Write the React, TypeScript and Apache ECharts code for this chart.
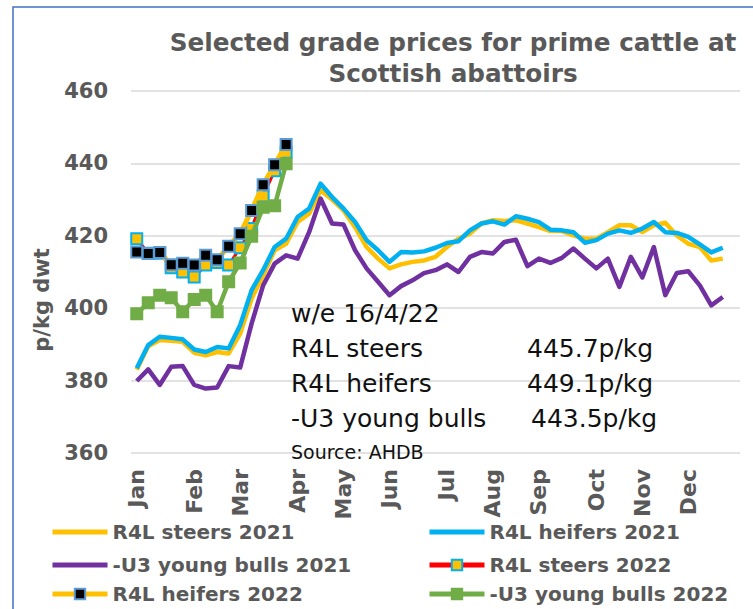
import React, { useEffect, useRef } from "react";
import * as echarts from "echarts";

const monthLabels: Record<number, string> = {
  0: "Jan", 5: "Feb", 9: "Mar", 14: "Apr", 18: "May", 22: "Jun",
  27: "Jul", 31: "Aug", 35: "Sep", 40: "Oct", 44: "Nov", 48: "Dec",
};
const weekCount = 53;
const categories: string[] = Array.from({ length: weekCount }, (_, i) => monthLabels[i] ?? "");

const steers2021 = [
  383.0, 389.5, 391.2, 391.0, 390.7, 387.7, 387.0, 387.9, 387.5, 393.0, 402.7, 409.1, 416.0, 417.8, 423.8, 426.1, 432.6,
  430.0, 427.0, 422.4, 416.9, 413.7, 411.0, 412.1, 412.8, 413.2, 414.2, 416.9, 419.2, 420.6, 423.4, 424.3, 424.1, 424.3, 423.4,
  422.4, 421.3, 421.3, 420.1, 419.2, 419.2, 421.0, 422.9, 422.9, 421.0, 422.9, 423.6, 420.1, 417.8, 416.9, 413.2, 413.7,
];
const heifers2021 = [
  383.4, 389.8, 392.1, 391.8, 391.4, 388.6, 387.9, 389.3, 388.9, 395.3, 405.0, 410.5, 416.9, 419.2, 425.2, 427.5, 434.4,
  430.7, 427.5, 423.8, 418.8, 416.0, 412.8, 415.5, 415.4, 415.7, 416.7, 418.0, 418.5, 421.5, 423.4, 424.0, 423.1, 425.4, 424.7,
  423.8, 421.7, 421.5, 421.0, 418.1, 418.8, 420.6, 421.5, 420.8, 422.0, 423.8, 421.0, 420.8, 419.7, 417.6, 415.4, 416.7,
];
const bulls2021 = [
  379.9, 383.1, 378.8, 383.8, 384.0, 378.8, 377.8, 378.1, 384.0, 383.6, 395.8, 406.3, 412.3, 414.6, 413.7, 421.0, 430.3,
  423.4, 423.1, 416.0, 411.0, 407.3, 403.6, 406.1, 407.7, 409.7, 410.5, 412.1, 410.0, 414.2, 415.5, 415.1, 418.3, 418.9, 411.6,
  413.7, 412.5, 413.9, 416.5, 413.7, 411.0, 413.7, 405.9, 414.2, 408.5, 416.9, 403.6, 409.7, 410.2, 406.3, 400.8, 403.1,
];
const steers2022 = [419.2, 415.2, 415.2, 411.2, 410.0, 408.6, 411.9, 412.6, 411.9, 416.7, 422.0, 431.0, 438.0, 443.1];
const heifers2022 = [415.5, 415.1, 415.4, 412.0, 412.4, 411.9, 414.6, 413.4, 417.1, 420.6, 427.0, 434.1, 439.6, 445.2];
const bulls2022 = [398.5, 401.5, 403.6, 402.9, 399.0, 402.4, 403.6, 399.0, 407.3, 412.5, 419.9, 427.9, 428.3, 439.9];

const yTicks = { min: 360, max: 460, interval: 20 };

const titleText = "Selected grade prices for prime cattle at\nScottish abattoirs";
const yAxisName = "p/kg dwt";
const noteRows: [string, string][] = [
  ["R4L steers", "445.7p/kg"],
  ["R4L heifers", "449.1p/kg"],
  ["-U3 young bulls", "443.5p/kg"],
];
const noteHeader = "w/e 16/4/22";
const sourceText = "Source: AHDB";

const GREY = "#595959";
const FONT = "DejaVu Sans";

export default function App() {
  const ref = useRef<HTMLDivElement>(null);
  useEffect(() => {
    if (!ref.current) return;
    const chart = echarts.init(ref.current, undefined, { renderer: "svg" });

    const lineSeries = (name: string, data: number[], color: string, width: number, z: number) => ({
      name,
      type: "line",
      data,
      symbol: "none",
      showSymbol: false,
      z,
      itemStyle: { color },
      lineStyle: { color, width, join: "round" },
    });
    const markerSeries = (
      name: string, data: number[], lineColor: string, width: number,
      fill: string, border: string, z: number
    ) => ({
      name,
      type: "line",
      data,
      symbol: "rect",
      symbolSize: 11,
      showSymbol: true,
      z,
      itemStyle: { color: fill, borderColor: border, borderWidth: 2 },
      lineStyle: { color: lineColor, width },
    });

    const legendCommon = {
      orient: "horizontal",
      itemWidth: 55,
      itemHeight: 13,
      textStyle: { color: GREY, fontSize: 20, fontWeight: "bold", fontFamily: FONT },
      padding: 0,
      selectedMode: false,
    };
    const rowY = [534, 567, 596];
    const colX = [50, 427];
    const legendDefs: { name: string; row: number; col: number; line: boolean; width: number }[] = [
      { name: "R4L steers 2021", row: 0, col: 0, line: false, width: 5 },
      { name: "R4L heifers 2021", row: 0, col: 1, line: false, width: 5 },
      { name: "-U3 young bulls 2021", row: 1, col: 0, line: false, width: 5 },
      { name: "R4L steers 2022", row: 1, col: 1, line: true, width: 5 },
      { name: "R4L heifers 2022", row: 2, col: 0, line: true, width: 5 },
      { name: "-U3 young bulls 2022", row: 2, col: 1, line: true, width: 5 },
    ];
    const legends = legendDefs.map((d) => ({
      ...legendCommon,
      left: colX[d.col],
      top: rowY[d.row] - 12,
      lineStyle: { width: d.width, cap: "butt" },
      data: [d.line ? { name: d.name } : { name: d.name, itemStyle: { opacity: 0 } }],
    }));

    const noteFont = `25px ${FONT}`;
    const graphics: any[] = [
      {
        type: "rect",
        z: -10,
        shape: { x: 13, y: 7, width: 800, height: 700 },
        style: { fill: "none", stroke: "#4472C4", lineWidth: 1.5 },
        silent: true,
      },
      {
        type: "text",
        x: 42,
        y: 300,
        rotation: Math.PI / 2,
        style: { text: yAxisName, font: `bold 21px ${FONT}`, fill: GREY, align: "center", verticalAlign: "middle" },
      },
      {
        type: "text",
        x: 291,
        y: 313,
        z: 100,
        style: { text: noteHeader, font: noteFont, fill: "#111", align: "left", verticalAlign: "middle" },
      },
      ...noteRows.flatMap(([label, val], i) => [
        {
          type: "text",
          x: 291,
          y: 348 + i * 35,
          z: 100,
          style: { text: label, font: noteFont, fill: "#111", align: "left", verticalAlign: "middle" },
        },
        {
          type: "text",
          x: i === 2 ? 531 : 527,
          y: 348 + i * 35,
          z: 100,
          style: { text: val, font: noteFont, fill: "#111", align: "left", verticalAlign: "middle" },
        },
      ]),
      {
        type: "text",
        x: 291,
        y: 452,
        z: 100,
        style: { text: sourceText, font: `19px ${FONT}`, fill: "#111", align: "left", verticalAlign: "middle" },
      },
    ];

    chart.setOption({
      animation: false,
      backgroundColor: "#ffffff",
      title: {
        text: titleText,
        left: 448,
        top: 22,
        textAlign: "center",
        textStyle: { color: GREY, fontSize: 24.7, fontWeight: "bold", fontFamily: FONT, lineHeight: 31 },
      },
      grid: { left: 131, right: 13, top: 91, bottom: 156, containLabel: false },
      xAxis: {
        type: "category",
        data: categories,
        boundaryGap: true,
        axisLine: { show: false },
        axisTick: { show: false },
        axisLabel: {
          interval: 0,
          rotate: 90,
          margin: 16,
          color: GREY,
          fontSize: 22,
          fontWeight: "bold",
          fontFamily: FONT,
        },
      },
      yAxis: {
        type: "value",
        min: yTicks.min,
        max: yTicks.max,
        interval: yTicks.interval,
        axisLine: { show: false },
        axisTick: { show: false },
        splitLine: { lineStyle: { color: "#d9d9d9", width: 1.5 } },
        axisLabel: { margin: 23, color: GREY, fontSize: 21, fontWeight: "bold", fontFamily: FONT },
      },
      legend: legends,
      graphic: graphics,
      series: [
        lineSeries("R4L steers 2021", steers2021, "#FFC000", 4.5, 2),
        lineSeries("R4L heifers 2021", heifers2021, "#00B0F0", 4.5, 3),
        lineSeries("-U3 young bulls 2021", bulls2021, "#7030A0", 4.5, 4),
        markerSeries("R4L steers 2022", steers2022, "#FF0000", 3, "#FFC000", "#00B0F0", 5),
        markerSeries("R4L heifers 2022", heifers2022, "#FFC000", 5, "#000000", "#5B9BD5", 6),
        markerSeries("-U3 young bulls 2022", bulls2022, "#70AD47", 4.5, "#70AD47", "#70AD47", 7),
      ],
    });
    return () => chart.dispose();
  }, []);

  return (
    <div
      ref={ref}
      style={{ position: "fixed", left: 0, top: 0, width: 753, height: 609 }}
    />
  );
}
